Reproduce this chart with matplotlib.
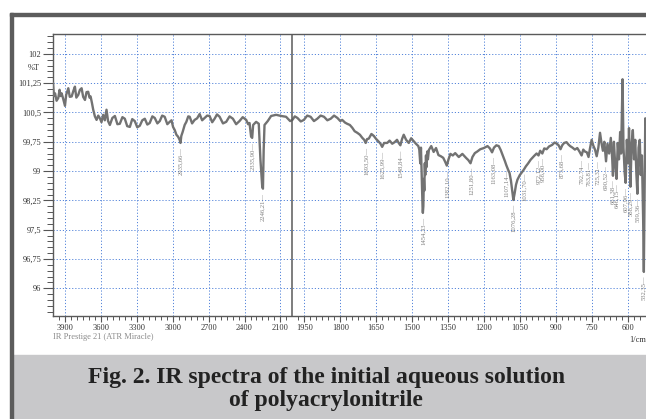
import numpy as np
import matplotlib.pyplot as plt
from matplotlib.patches import Rectangle
from matplotlib.ticker import FixedLocator, MultipleLocator, FuncFormatter

plt.rcParams['font.family'] = 'serif'
plt.rcParams['font.serif'] = ['Liberation Serif', 'DejaVu Serif']

# spectrum: wavenumber (1/cm) and transmittance (%T)
wavenumber = [
    4000, 3992, 3983, 3970, 3956, 3945, 3938, 3928, 3915, 3900, 3890, 3872, 3860, 3844, 3830, 3817,
    3805, 3789, 3775, 3761, 3748, 3733, 3720, 3706, 3695, 3686, 3675, 3664, 3650, 3636, 3622, 3608,
    3595, 3581, 3567, 3553, 3540, 3525, 3504, 3483, 3462, 3442, 3420, 3400, 3380, 3358, 3338, 3317,
    3296, 3275, 3254, 3233, 3212, 3192, 3170, 3150, 3128, 3108, 3088, 3067, 3045, 3025, 3010, 2997,
    2983, 2969, 2955, 2942, 2935, 2928, 2917, 2900, 2886, 2870, 2858, 2838, 2817, 2796, 2775, 2754,
    2733, 2712, 2692, 2670, 2650, 2630, 2608, 2580, 2553, 2525, 2497, 2470, 2442, 2415, 2386, 2370,
    2358, 2345, 2336, 2328, 2303, 2281, 2267, 2252, 2246, 2240, 2233, 2206, 2178, 2136, 2094, 2053,
    2019, 2000,
    1990, 1979, 1965, 1952, 1938, 1924, 1910, 1896, 1882, 1868, 1854, 1840, 1826, 1812, 1800, 1792,
    1780, 1771, 1760, 1750, 1740, 1729, 1718, 1708, 1700, 1694, 1688, 1681, 1670, 1660, 1650, 1639,
    1632, 1625, 1617, 1604, 1594, 1583, 1573, 1563, 1556, 1549, 1542, 1535, 1525, 1514, 1504, 1494,
    1484, 1474, 1470, 1466, 1463, 1460, 1458, 1456, 1455, 1453, 1451, 1449, 1447, 1445, 1442, 1440,
    1437, 1434, 1430, 1420, 1410, 1400,
    1390, 1380, 1370, 1362, 1355, 1348, 1340, 1330, 1320, 1305, 1290, 1275, 1265, 1256, 1248, 1238,
    1228, 1215, 1200, 1185, 1175, 1166, 1158, 1148, 1138, 1130, 1120, 1112, 1107, 1100, 1093, 1087,
    1082, 1077, 1072, 1066, 1060, 1050, 1040, 1032, 1025, 1015, 1005, 990, 980, 972, 965, 956,
    948, 938, 928, 915, 905, 895, 888, 880, 873, 865, 855, 847, 840, 830, 820, 810,
    800, 792, 785, 778, 770, 763, 757, 750, 743, 736, 729, 722, 715, 709, 703, 697,
    690, 684, 677, 670, 664, 661, 657, 652, 646, 641, 636, 631, 627, 621, 617, 612,
    608, 603, 598, 594, 588, 583, 578, 573, 568, 563, 559, 554, 549, 545, 540, 535,
    532, 529, 526, 523,
]
transmittance = [
    101.25, 100.92, 100.99, 100.80, 100.87, 101.08, 100.92, 100.99, 100.85, 100.67, 100.95, 101.12, 100.90, 100.91, 101.05, 101.16,
    100.88, 100.95, 101.08, 101.12, 100.90, 100.82, 101.02, 101.03, 100.88, 100.91, 100.75, 100.57, 100.40, 100.31, 100.42, 100.35,
    100.25, 100.44, 100.30, 100.57, 100.28, 100.18, 100.36, 100.41, 100.20, 100.21, 100.38, 100.34, 100.15, 100.13, 100.33, 100.28,
    100.12, 100.16, 100.30, 100.34, 100.19, 100.23, 100.40, 100.36, 100.22, 100.28, 100.42, 100.39, 100.20, 100.26, 100.30, 100.13,
    100.05, 99.93, 99.88, 99.80, 99.72, 99.90, 100.00, 100.18, 100.26, 100.40, 100.39, 100.22, 100.31, 100.35, 100.46, 100.30,
    100.36, 100.42, 100.41, 100.25, 100.34, 100.45, 100.39, 100.22, 100.26, 100.40, 100.34, 100.20, 100.28, 100.38, 100.31, 100.20,
    100.23, 99.88, 99.85, 100.18, 100.26, 100.21, 99.29, 98.60, 98.55, 99.54, 100.18, 100.28, 100.41, 100.44, 100.41, 100.39,
    100.28, 100.31,
    100.40, 100.36, 100.27, 100.31, 100.42, 100.39, 100.28, 100.34, 100.42, 100.39, 100.30, 100.34, 100.42, 100.36, 100.28, 100.31,
    100.24, 100.21, 100.18, 100.11, 100.02, 99.98, 99.93, 99.85, 99.80, 99.72, 99.82, 99.83, 99.95, 99.90, 99.82, 99.75,
    99.70, 99.62, 99.72, 99.72, 99.78, 99.70, 99.74, 99.80, 99.72, 99.66, 99.82, 99.93, 99.80, 99.72, 99.84, 99.77,
    99.70, 99.64, 99.55, 99.20, 99.60, 98.90, 98.40, 98.00, 97.93, 98.10, 98.80, 98.50, 99.20, 98.90, 99.40, 99.10,
    99.50, 99.30, 99.54, 99.64, 99.49, 99.59,
    99.41, 99.38, 99.34, 99.24, 99.14, 99.30, 99.44, 99.40, 99.46, 99.36, 99.44, 99.34, 99.28, 99.20, 99.36, 99.46,
    99.50, 99.56, 99.59, 99.64, 99.58, 99.48, 99.60, 99.66, 99.64, 99.54, 99.38, 99.25, 99.16, 99.05, 98.95, 98.75,
    98.50, 98.26, 98.42, 98.65, 98.78, 98.90, 98.98, 99.05, 99.12, 99.20, 99.29, 99.39, 99.45, 99.40, 99.52, 99.45,
    99.58, 99.56, 99.63, 99.67, 99.73, 99.70, 99.66, 99.56, 99.66, 99.72, 99.74, 99.68, 99.64, 99.60, 99.55, 99.59,
    99.49, 99.40, 99.55, 99.50, 99.48, 99.36, 99.58, 99.80, 99.65, 99.55, 99.38, 99.60, 99.98, 99.72, 99.52, 99.75,
    99.25, 99.70, 99.45, 99.85, 99.30, 98.88, 99.75, 99.20, 98.80, 99.72, 99.30, 100.00, 99.45, 101.35, 99.60, 98.95,
    98.70, 99.80, 99.20, 100.10, 98.60, 99.70, 100.05, 99.30, 99.80, 98.90, 98.42, 99.60, 99.80, 98.90, 99.40, 97.80,
    96.42, 98.50, 100.35, 100.20,
]

peak_wn = [2935.66, 2335.90, 2246.21, 1693.50, 1625.99, 1548.84, 1454.33, 1355, 1251.80, 1163.08,
           1107.14, 1076.28, 1031.70, 972.12, 956.00, 875.68, 792.74, 763.81, 725.31, 690.52,
           661.38, 646.15, 607.96, 588.29, 559.36, 532.35]
peak_labels = ['2935,66', '2335,90', '2246,21', '1693,50', '1625,99', '1548,84', '1454,33', '1382,10',
               '1251,80', '1163,08', '1107,14', '1076,28', '1031,70', '972,12', '956,00', '875,68',
               '792,74', '763,81', '725,31', '690,52', '661,38', '646,15', '607,96', '588,29',
               '559,36', '532,35']

x_major = [3900, 3600, 3300, 3000, 2700, 2400, 2100, 1950, 1800, 1650, 1500, 1350, 1200, 1050, 900, 750, 600]
y_major = [96, 96.75, 97.5, 98.25, 99, 99.75, 100.5, 101.25, 102]

BREAK = 2000  # scale halves below 2000 1/cm


def fwd(w):
    w = np.asarray(w, dtype=float)
    return np.where(w >= BREAK, (w - BREAK) * 0.5, w - BREAK)


def inv(u):
    u = np.asarray(u, dtype=float)
    return np.where(u >= 0, BREAK + u * 2.0, BREAK + u)


W, H = 646, 419
fig = plt.figure(figsize=(W / 100, H / 100), dpi=100)

# page frame and caption band
fig.patches.append(Rectangle((13 / W, 0), 1, (H - 355) / H, transform=fig.transFigure,
                             color='#c8c8ca', zorder=0))
fig.patches.append(Rectangle((9.5 / W, 0), 3 / W, (H - 13) / H, transform=fig.transFigure,
                             color='#5c5c5c', zorder=1))
fig.patches.append(Rectangle((9.5 / W, (H - 16) / H), 1, 2.8 / H, transform=fig.transFigure,
                             color='#5c5c5c', zorder=1))

ax = fig.add_axes([53 / W, 1 - 315.7 / H, 593 / W, (315.7 - 34.3) / H])
ax.set_xscale('function', functions=(fwd, inv))
ax.set_xlim(4000, 523)
ax.set_ylim(95.3, 102.5)

wn = np.array(wavenumber)
tr = np.array(transmittance)
ax.plot(wn, tr, color='#727272', lw=1.7, zorder=3)
ax.axvline(BREAK, color='#5a5a5a', lw=1.1, zorder=4)

for p, lab in zip(peak_wn, peak_labels):
    m = np.abs(wn - p) <= 6
    tmin = tr[m].min() if m.any() else np.interp(p, wn[::-1], tr[::-1])
    ax.text(p, tmin - 0.1, lab + '\u2014', rotation=90, ha='center', va='top',
            fontsize=4.8, color='#7f7f7f', zorder=5)

ax.xaxis.set_major_locator(FixedLocator(x_major))
minor_x = list(range(3950, 2000, -50)) + list(range(1975, 520, -25))
ax.xaxis.set_minor_locator(FixedLocator(minor_x))
ax.xaxis.set_major_formatter(FuncFormatter(lambda v, _: f'{v:.0f}'))
ax.yaxis.set_major_locator(FixedLocator(y_major))
ax.yaxis.set_minor_locator(MultipleLocator(0.15))
ax.yaxis.set_major_formatter(FuncFormatter(lambda v, _: f'{v:g}'.replace('.', ',')))

ax.grid(True, which='major', color='#5585da', linestyle=(0, (1.2, 2.0)), lw=0.7)
ax.set_axisbelow(True)
for s in ['top', 'left', 'bottom']:
    ax.spines[s].set_color('#5a5a5a')
    ax.spines[s].set_linewidth(1.0)
ax.spines['right'].set_visible(False)

ax.tick_params(axis='x', which='major', length=4, width=0.8, color='#555555',
               labelsize=6, pad=2, labelcolor='#333333')
ax.tick_params(axis='x', which='minor', length=3, width=0.7, color='#555555')
ax.tick_params(axis='y', which='major', length=7, width=0.8, color='#555555',
               labelsize=6, pad=1.5, labelcolor='#333333')
ax.tick_params(axis='y', which='minor', length=4, width=0.7, color='#555555')

fig.text(40 / W, 1 - 68 / H, '%T', ha='right', va='center', fontsize=6, color='#333333')
fig.text(53 / W, 1 - 337 / H, 'IR Prestige 21 (ATR Miracle)', ha='left', va='center',
         fontsize=6, color='#8a8a8a')
fig.text(629 / W, 1 - 340 / H, '1/cm', ha='left', va='center', fontsize=6, color='#333333')

fig.text(0.505, 1 - 389 / H, 'Fig. 2. IR spectra of the initial aqueous solution\nof polyacrylonitrile',
         ha='center', va='center', fontsize=17, fontweight='bold', color='#222222', linespacing=1.15)

fig.savefig('out.png', dpi=100)
